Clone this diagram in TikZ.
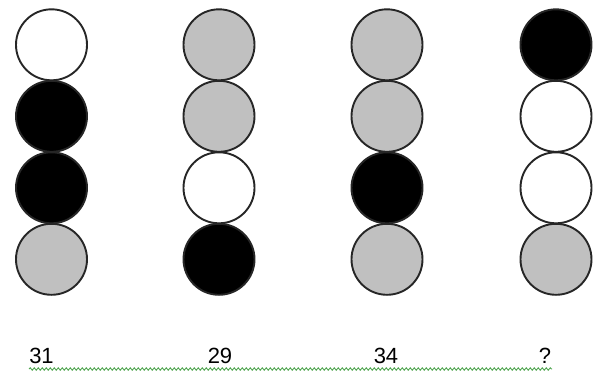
\documentclass[tikz,border=0pt]{standalone}
\usepackage{fontspec}
\setmainfont{Liberation Sans}
\usepackage{xcolor}
\usetikzlibrary{positioning,decorations.pathmorphing}
\definecolor{ballgray}{RGB}{192,192,192}
\definecolor{wavygreen}{RGB}{80,165,80}
\tikzset{
  ball/.style={circle, draw=black!85, line width=1.9pt, minimum size=71pt, inner sep=0pt},
  count/.style={anchor=base, inner sep=0pt, font=\fontsize{22}{22}\selectfont}
}

\begin{document}
\begin{tikzpicture}[x=1pt,y=-1pt]
  \useasboundingbox (0,0) rectangle (598,376);
  % the four columns of balls
  \foreach \col/\xx/\fa/\fb/\fc/\fd in {1/51.5/white/black/black/ballgray,
                                         2/219/ballgray/ballgray/white/black,
                                         3/387/ballgray/ballgray/black/ballgray,
                                         4/556/black/white/white/ballgray}{
    \node[ball, fill=\fa] (b\col-1) at (\xx,44.8) {};
    \node[ball, fill=\fb] (b\col-2) at (\xx,116.3) {};
    \node[ball, fill=\fc] (b\col-3) at (\xx,187.8) {};
    \node[ball, fill=\fd] (b\col-4) at (\xx,259.3) {};
  }
  % the numbers under them
  \node[count] (n1) at (41.5,363) {31};
  \node[count] (n2) at (220,363) {29};
  \node[count] (n3) at (386,363) {34};
  \node[count] (n4) at (545,363) {?};
  \coordinate (wavestart) at (29,369);
  \coordinate (waveend) at (552,369);
  \draw[wavygreen, line width=0.9pt, decorate,
        decoration={snake, amplitude=1.2pt, segment length=4pt}] (wavestart) -- (waveend);
\end{tikzpicture}
\end{document}
